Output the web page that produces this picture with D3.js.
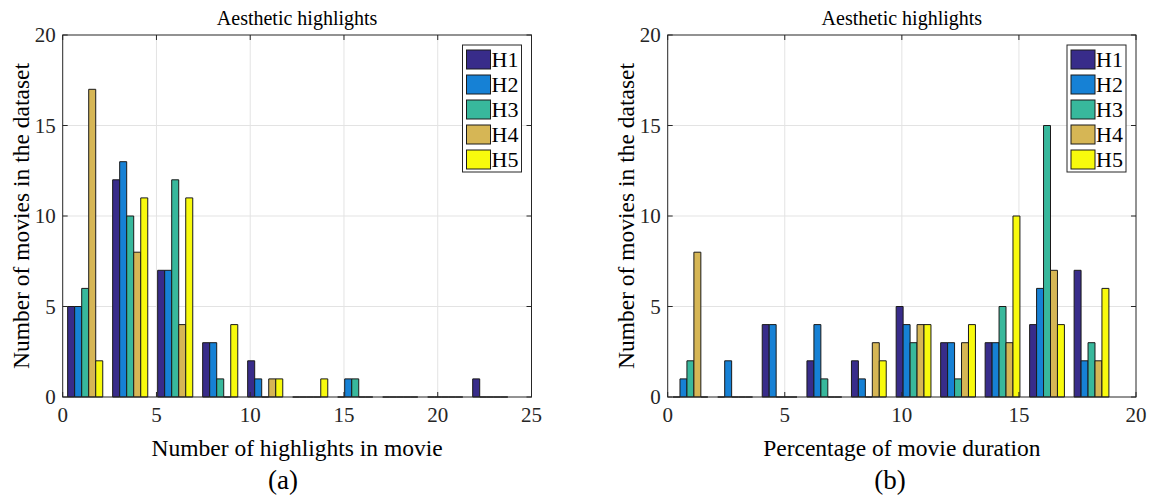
<!DOCTYPE html>
<html>
<head>
<meta charset="utf-8">
<script src="https://cdn.jsdelivr.net/npm/d3@7"></script>
<style>
  body { margin: 0; background: #fff; }
  text { font-family: "Liberation Serif", "DejaVu Serif", serif; }
</style>
</head>
<body>
<script>
const w = 1153, h = 499;
const series = ["H1", "H2", "H3", "H4", "H5"];
const colors = ["#382c8a", "#1681d5", "#38b89c", "#d6b655", "#f8fa0d"];
const yTicks = [0, 5, 10, 15, 20];

// panel (a): number of highlights in movie
const binsA = [1.2, 3.6, 6.0, 8.4, 10.8, 13.2, 15.6, 18.0, 20.4, 22.8];
const binWidthA = 2.4;
const xTicksA = [0, 5, 10, 15, 20, 25];
const countsA = [
    [5, 12, 7, 3, 2, 0, 0, 0, 0, 1],   // H1
    [5, 13, 7, 3, 1, 0, 1, 0, 0, 0],   // H2
    [6, 10, 12, 1, 0, 0, 1, 0, 0, 0],  // H3
    [17, 8, 4, 0, 1, 0, 0, 0, 0, 0],   // H4
    [2, 11, 11, 4, 1, 1, 0, 0, 0, 0]   // H5
];

// panel (b): percentage of movie duration
const binsB = [0.97, 2.88, 4.78, 6.69, 8.59, 10.5, 12.4, 14.3, 16.2, 18.1];
const binWidthB = 1.905;
const xTicksB = [0, 5, 10, 15, 20];
const countsB = [
    [0, 0, 4, 2, 2, 5, 3, 3, 4, 7],    // H1
    [1, 2, 4, 4, 1, 4, 3, 3, 6, 2],    // H2
    [2, 0, 0, 1, 0, 3, 1, 5, 15, 3],   // H3
    [8, 0, 0, 0, 3, 4, 3, 3, 7, 2],    // H4
    [0, 0, 0, 0, 2, 4, 4, 10, 4, 6]    // H5
];

const svg = d3.select("body").append("svg")
    .attr("width", w)
    .attr("height", h)
    .attr("font-family", "'Liberation Serif', serif");

function panel(opt) {
    const left = opt.left, right = opt.right, top = 35, bottom = 397;
    const axisColor = "#262626";
    const xScale = d3.scaleLinear().domain(opt.xDomain).range([left, right]);
    const yScale = d3.scaleLinear().domain([0, 20]).range([bottom, top]);
    const g = svg.append("g");

    // grid
    g.selectAll(".gx").data(opt.xTicks.slice(1, -1)).enter().append("line")
        .attr("x1", d => xScale(d)).attr("x2", d => xScale(d))
        .attr("y1", top).attr("y2", bottom)
        .attr("stroke", "#e3e3e3").attr("stroke-width", 1);
    g.selectAll(".gy").data(yTicks.slice(1, -1)).enter().append("line")
        .attr("x1", left).attr("x2", right)
        .attr("y1", d => yScale(d)).attr("y2", d => yScale(d))
        .attr("stroke", "#e3e3e3").attr("stroke-width", 1);

    // bars
    const groupW = opt.binWidth * 0.78;
    const inner = d3.scaleBand().domain(series).range([-groupW / 2, groupW / 2]);
    opt.counts.forEach((vals, si) => {
        g.selectAll(".b" + si).data(vals).enter().append("path")
            .attr("d", (v, i) => {
                const x0 = xScale(opt.bins[i] + inner(series[si]));
                const x1 = xScale(opt.bins[i] + inner(series[si]) + inner.bandwidth());
                const y0 = yScale(0), y1 = yScale(v);
                return "M" + x0 + "," + y0 + "V" + y1 + "H" + x1 + "V" + y0 + "Z";
            })
            .attr("fill", colors[si])
            .attr("stroke", "#1a1a1a")
            .attr("stroke-width", 1);
    });

    // box and ticks
    g.append("rect")
        .attr("x", left).attr("y", top)
        .attr("width", right - left).attr("height", bottom - top)
        .attr("fill", "none").attr("stroke", axisColor).attr("stroke-width", 1);
    const tl = 5;
    opt.xTicks.forEach(t => {
        g.append("line").attr("x1", xScale(t)).attr("x2", xScale(t))
            .attr("y1", bottom).attr("y2", bottom - tl).attr("stroke", axisColor);
        g.append("line").attr("x1", xScale(t)).attr("x2", xScale(t))
            .attr("y1", top).attr("y2", top + tl).attr("stroke", axisColor);
    });
    yTicks.forEach(t => {
        g.append("line").attr("x1", left).attr("x2", left + tl)
            .attr("y1", yScale(t)).attr("y2", yScale(t)).attr("stroke", axisColor);
        g.append("line").attr("x1", right).attr("x2", right - tl)
            .attr("y1", yScale(t)).attr("y2", yScale(t)).attr("stroke", axisColor);
    });

    // tick labels
    g.selectAll(".xl").data(opt.xTicks).enter().append("text")
        .attr("x", d => xScale(d)).attr("y", 422)
        .attr("text-anchor", "middle").attr("font-size", 21)
        .attr("fill", axisColor).text(d => d);
    g.selectAll(".yl").data(yTicks).enter().append("text")
        .attr("x", left - 7).attr("y", d => yScale(d) + 7)
        .attr("text-anchor", "end").attr("font-size", 21)
        .attr("fill", axisColor).text(d => d);

    // title and labels
    const cx = (left + right) / 2;
    g.append("text").attr("x", cx).attr("y", 25)
        .attr("text-anchor", "middle").attr("font-size", 20)
        .attr("fill", "#000").text("Aesthetic highlights");
    g.append("text").attr("x", cx).attr("y", 456)
        .attr("text-anchor", "middle").attr("font-size", 23.5)
        .attr("fill", "#000").text(opt.xLabel);
    g.append("text")
        .attr("transform", "translate(" + (left - 34) + "," + ((top + bottom) / 2) + ") rotate(-90)")
        .attr("text-anchor", "middle").attr("font-size", 23.5)
        .attr("fill", "#000").text("Number of movies in the dataset");
    g.append("text").attr("x", opt.capX).attr("y", 489)
        .attr("text-anchor", "middle").attr("font-size", 27)
        .attr("fill", "#000").text(opt.caption);

    // legend
    const lw = 59, lx = right - 10 - lw, ly = 45;
    g.append("rect").attr("x", lx).attr("y", ly).attr("width", lw).attr("height", 127)
        .attr("fill", "#fff").attr("stroke", axisColor).attr("stroke-width", 1);
    series.forEach((s, i) => {
        g.append("rect").attr("x", lx + 4).attr("y", ly + 5 + i * 25)
            .attr("width", 24).attr("height", 19)
            .attr("fill", colors[i]).attr("stroke", "#1a1a1a");
        g.append("text").attr("x", lx + 29).attr("y", ly + 22 + i * 25)
            .attr("font-size", 22).attr("fill", "#000").text(s);
    });
}

panel({ left: 62.7, right: 531.5, xDomain: [0, 25], xTicks: xTicksA,
    bins: binsA, binWidth: binWidthA, counts: countsA,
    xLabel: "Number of highlights in movie", caption: "(a)", capX: 283 });
panel({ left: 667.7, right: 1136, xDomain: [0, 20], xTicks: xTicksB,
    bins: binsB, binWidth: binWidthB, counts: countsB,
    xLabel: "Percentage of movie duration", caption: "(b)", capX: 890 });
</script>
</body>
</html>
